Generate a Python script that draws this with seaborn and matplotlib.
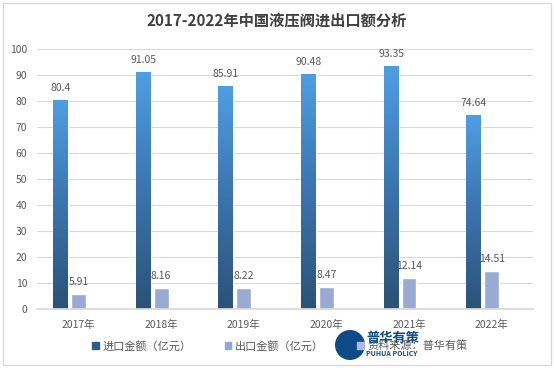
"""
2017-2022年中国液压阀进出口额分析 - grouped bar chart
"""

import numpy as np
import pandas as pd
import matplotlib
matplotlib.use("Agg")
import matplotlib.pyplot as plt
import seaborn as sns
from matplotlib.patches import Patch, Rectangle, Ellipse
from matplotlib.colors import LinearSegmentedColormap

# data
years = ['2017年', '2018年', '2019年', '2020年', '2021年', '2022年']
import_vals = [80.4, 91.05, 85.91, 90.48, 93.35, 74.64]
export_vals = [5.91, 8.16, 8.22, 8.47, 12.14, 14.51]
series = ['进口金额（亿元）', '出口金额（亿元）', '资料来源：普华有策']

df = pd.DataFrame({
    'year': years * 3,
    'series': [series[0]] * 6 + [series[1]] * 6 + [series[2]] * 6,
    'value': import_vals + export_vals + [np.nan] * 6,
})

sns.set_theme(style="white")
plt.rcParams['font.family'] = ['Noto Sans CJK SC', 'DejaVu Sans']

c_import = '#2F5A8A'
c_export = '#8FA8DC'
c_source = '#A9B8E4'
txt = '#595959'

W, H = 554, 368
fig = plt.figure(figsize=(W / 100, H / 100), dpi=100)
ax = fig.add_axes([0.067, 0.160, 0.895, 0.707])

sns.barplot(data=df, x='year', y='value', hue='series', hue_order=series,
            order=years, palette=[c_import, c_export, c_source],
            width=0.65, gap=0.17, ax=ax, legend=False, errorbar=None)

# gradient on import bars
cmap = LinearSegmentedColormap.from_list('imp', ['#2B5276', '#3B74AE', '#4F9EE3'])
grad = np.linspace(0, 1, 256).reshape(-1, 1)
for bar in ax.containers[0]:
    x0, w, h = bar.get_x(), bar.get_width(), bar.get_height()
    bar.set_facecolor('none')
    im = ax.imshow(grad, cmap=cmap, origin='lower', aspect='auto',
                   extent=[x0, x0 + w, 0, h], zorder=bar.get_zorder(),
                   interpolation='bicubic')
    im.set_clip_path(bar)

# data labels
for cont, vals in zip(ax.containers[:2], [import_vals, export_vals]):
    ax.bar_label(cont, labels=[f'{v:g}' for v in vals], padding=5,
                 fontsize=7.5, color=txt)

ax.set_xlim(-0.5, 5.5)
ax.set_ylim(0, 100)
ax.set_yticks(range(0, 101, 10))
ax.yaxis.grid(True, color='#D9D9D9', linewidth=0.8)
ax.set_axisbelow(True)
for s in ['top', 'right', 'left']:
    ax.spines[s].set_visible(False)
ax.spines['bottom'].set_color('#D9D9D9')
ax.tick_params(axis='both', length=0, labelsize=7.5, colors=txt)
ax.tick_params(axis='x', pad=8)
ax.tick_params(axis='y', pad=7)
ax.set_xlabel('')
ax.set_ylabel('')

fig.text(0.5, 0.945, '2017-2022年中国液压阀进出口额分析', ha='center', va='center',
         fontsize=11, fontweight='bold', color='#404040')

handles = [Patch(color=c_import), Patch(color=c_export), Patch(color=c_source)]
fig.legend(handles, series, loc='center', bbox_to_anchor=(0.505, 0.06), ncol=3,
           frameon=False, fontsize=8, handlelength=0.6, handleheight=0.6,
           handletextpad=0.3, columnspacing=3.0, labelcolor=txt)

# watermark logo
r = 15
fig.add_artist(Ellipse((350 / W, 1 - 345 / H), 2 * r / W, 2 * r / H,
                       transform=fig.transFigure, facecolor='#0E4A86',
                       edgecolor='none', zorder=5))
fig.text(366 / W, 1 - 338 / H, '普华有策', fontsize=9.5, fontweight='bold',
         color='#0E4A86', va='center', zorder=6)
fig.text(366 / W, 1 - 353 / H, 'PUHUA POLICY', fontsize=5, fontweight='bold',
         color='#0E4A86', va='center', zorder=6)

# outer border
fig.add_artist(Rectangle((0.006, 0.008), 0.988, 0.984, transform=fig.transFigure,
                         fill=False, edgecolor='#D9D9D9', linewidth=1))

fig.savefig('out.png', dpi=100)
